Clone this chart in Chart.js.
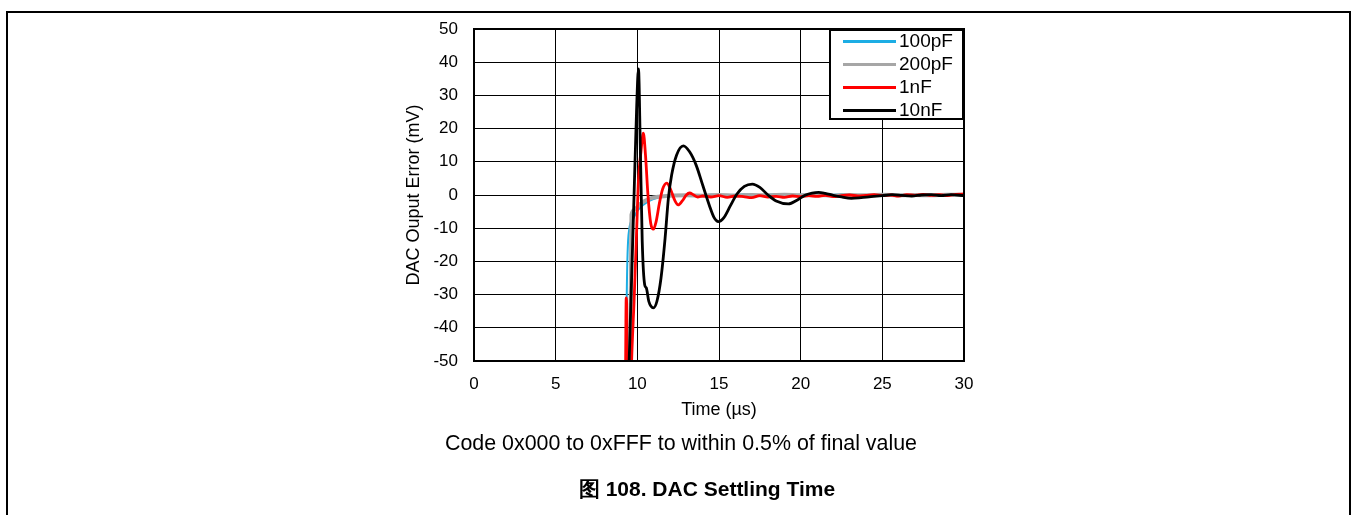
<!DOCTYPE html>
<html>
<head>
<meta charset="utf-8">
<script src="https://cdn.jsdelivr.net/npm/chart.js@4.4.1/dist/chart.umd.min.js"></script>
<style>
body { margin:0; background:#fff; font-family:"Liberation Sans", Arial, sans-serif; }
#wrap { position:relative; width:1351px; height:515px; overflow:hidden; }
#frame { position:absolute; left:6px; top:11px; width:1341px; height:520px; border:2px solid #000; border-bottom:none; }
#legend { position:absolute; left:829px; top:29px; width:131px; height:87px; border:2px solid #000; background:#fff; }
.row { position:absolute; left:10px; height:22px; font-size:19px; line-height:22px; color:#000; }
.row span.ln { position:absolute; left:2px; top:10px; width:53px; height:3px; }
.row span.tx { position:absolute; left:58px; top:0; white-space:nowrap; }
#caption { position:absolute; left:443px; width:476px; top:430px; text-align:center; font-size:21.4px; line-height:26px; white-space:nowrap; }
#figtitle { position:absolute; left:577px; width:260px; top:477px; text-align:center; font-size:21px; font-weight:bold; line-height:24px; white-space:nowrap; }
</style>
</head>
<body>
<div id="wrap">
<div id="frame"></div>
<canvas id="chart" width="1351" height="515"></canvas>
<div id="legend"></div>
<div id="caption">Code 0x000 to 0xFFF to within 0.5% of final value</div>
<div id="figtitle">图 108. DAC Settling Time</div>
</div>
<script>
// series names + colours
var seriesNames = ['100pF', '200pF', '1nF', '10nF'];
var seriesColors = ['#1CADE4', '#A6A6A6', '#FF0000', '#000000'];
var xTicks = [0, 5, 10, 15, 20, 25, 30];
var yTicks = [-50, -40, -30, -20, -10, 0, 10, 20, 30, 40, 50];

// 100pF
var t100p = [9.30, 9.35, 9.50, 9.70, 10.0, 10.35, 10.8, 11.3, 11.8, 12.5, 13.5, 14.5, 15.5, 16.5, 17.5, 18.5, 19.5, 20.5, 21.5, 22.5, 23.5, 24.5, 25.5, 26.5, 27.5, 28.5, 29.5, 30.0];
var v100p = [-70, -31, -10.5, -7.5, -4.8, -3.0, -1.6, -0.8, -0.3, 0, -0.2, 0.1, -0.1, 0.2, 0, 0.2, 0, 0.1, -0.1, 0.2, -0.1, 0.1, -0.1, 0.1, -0.2, 0, 0.1, -0.2];

// 200pF
var t200p = [9.52, 9.58, 9.64, 9.80, 10.1, 10.45, 10.8, 11.3, 12.0, 13.0, 14.0, 15.0, 16.0, 17.0, 18.0, 19.0, 20.0, 21.0, 22.0, 23.0, 24.0, 25.0, 26.0, 27.0, 28.0, 29.0, 30.0];
var v200p = [-70, -45, -6, -4.6, -3.0, -1.8, -1.0, -0.5, -0.2, -0.1, -0.2, 0, -0.2, 0, -0.1, 0.1, -0.1, 0, -0.2, 0, -0.1, 0.1, -0.1, 0, -0.1, 0.1, 0];

// 1nF
var t1n = [9.26, 9.32, 9.34, 9.40, 9.55, 9.65, 9.80, 9.95, 10.07, 10.22, 10.37, 10.50, 10.65, 10.82, 10.98, 11.15, 11.35, 11.55, 11.80, 12.05, 12.28, 12.50, 12.75, 13.00, 13.20, 13.45, 13.70, 14.0, 14.5, 15.0, 15.5, 16.0, 16.5, 17.0, 17.5, 18.0, 18.5, 19.0, 19.5, 20.0, 20.5, 21.0, 21.5, 22.0, 22.5, 23.0, 23.5, 24.0, 24.5, 25.0, 25.5, 26.0, 26.5, 27.0, 27.5, 28.0, 28.5, 29.0, 29.5, 30.0];
var v1n = [-70, -31, -31, -70, -70, -50, -32, -12, 4.5, 13, 18.6, 12, 0, -8.5, -10.3, -8, -2.5, 1.8, 3.6, 1.5, -1.5, -3.0, -1.8, 0, 0.6, 0, -0.6, -0.3, -0.6, -0.2, -0.7, -0.3, -0.5, -0.8, -0.2, -0.6, -0.4, -0.7, -0.3, -0.5, -0.2, -0.4, -0.1, -0.5, -0.2, 0, -0.3, -0.1, 0.1, -0.2, 0, -0.3, 0.1, -0.1, 0.2, -0.1, 0.1, -0.2, 0.2, 0.3];

// 10nF
var t10n = [9.40, 9.50, 9.65, 9.80, 9.95, 10.07, 10.18, 10.30, 10.45, 10.55, 10.70, 10.85, 10.98, 11.20, 11.45, 11.70, 11.90, 12.10, 12.40, 12.82, 13.20, 13.60, 14.00, 14.40, 14.70, 14.96, 15.30, 15.70, 16.10, 16.55, 17.04, 17.50, 18.00, 18.50, 19.25, 19.80, 20.30, 20.70, 21.10, 21.50, 22.00, 22.50, 23.10, 23.70, 24.30, 25.00, 25.60, 26.20, 26.80, 27.40, 28.00, 28.60, 29.20, 30.00];
var v10n = [-70, -50, -25, 0, 25, 38, 15, -14, -27, -28, -32, -33.6, -34, -32, -25, -13, -1, 6, 12, 14.8, 13.0, 9.0, 3.0, -3.0, -6.8, -8, -6.8, -3.2, 0.3, 2.6, 3.3, 2.3, 0, -1.8, -2.7, -1.5, 0, 0.6, 0.8, 0.5, -0.1, -0.6, -1.0, -0.8, -0.5, -0.2, 0.1, -0.1, -0.3, 0, 0.1, -0.2, 0.1, -0.2];

var times = [t100p, t200p, t1n, t10n];
var values = [v100p, v200p, v1n, v10n];
var widths = [2, 4, 2.8, 2.8];
var orders = [3, 2, 1, 0];

function toPoints(t, v) {
    var pts = [];
    for (var i = 0; i < t.length; i++) pts.push({x: t[i], y: v[i]});
    return pts;
}

var datasets = [];
for (var i = 0; i < seriesNames.length; i++) {
    datasets.push({
        label: seriesNames[i],
        data: toPoints(times[i], values[i]),
        borderColor: seriesColors[i],
        backgroundColor: seriesColors[i],
        borderWidth: widths[i],
        pointRadius: 0,
        cubicInterpolationMode: 'monotone',
        order: orders[i],
        clip: 0
    });
}

// html legend
var leg = document.getElementById('legend');
for (var i = 0; i < seriesNames.length; i++) {
    var r = document.createElement('div');
    r.className = 'row';
    r.style.top = (i * 23 - 1) + 'px';
    r.innerHTML = '<span class="ln" style="background:' + seriesColors[i] + '"></span><span class="tx">' + seriesNames[i] + '</span>';
    leg.appendChild(r);
}

var plotBorder = {
    id: 'plotBorder',
    afterDatasetsDraw: function (chart) {
        var a = chart.chartArea, ctx = chart.ctx;
        ctx.save();
        ctx.strokeStyle = '#000';
        ctx.lineWidth = 2;
        ctx.strokeRect(a.left, a.top, a.right - a.left, a.bottom - a.top);
        ctx.restore();
    }
};

var font = {family: "'Liberation Sans', Arial, sans-serif", size: 17};

new Chart(document.getElementById('chart'), {
    type: 'line',
    data: {datasets: datasets},
    options: {
        responsive: false,
        animation: false,
        layout: {padding: {left: 400, top: 29, right: 387, bottom: 94}},
        plugins: {legend: {display: false}, tooltip: {enabled: false}},
        scales: {
            x: {
                type: 'linear',
                min: 0, max: 30,
                afterFit: function (s) { s.height = 60; },
                afterBuildTicks: function (s) { s.ticks = xTicks.map(function (v) { return {value: v}; }); },
                grid: {color: '#000', lineWidth: 1, drawTicks: false},
                border: {display: false},
                ticks: {color: '#000', font: font, padding: 13, maxRotation: 0},
                title: {display: true, text: 'Time (µs)', color: '#000', font: {family: font.family, size: 18}, padding: {top: 0, bottom: 0}}
            },
            y: {
                min: -50, max: 50,
                afterFit: function (s) { s.width = 74; },
                afterBuildTicks: function (s) { s.ticks = yTicks.map(function (v) { return {value: v}; }); },
                grid: {color: '#000', lineWidth: 1, drawTicks: false},
                border: {display: false},
                ticks: {color: '#000', font: font, padding: 16},
                title: {display: true, text: 'DAC Ouput Error (mV)', color: '#000', font: {family: font.family, size: 18}, padding: {top: 3, bottom: 0}}
            }
        }
    },
    plugins: [plotBorder]
});
</script>
</body>
</html>
